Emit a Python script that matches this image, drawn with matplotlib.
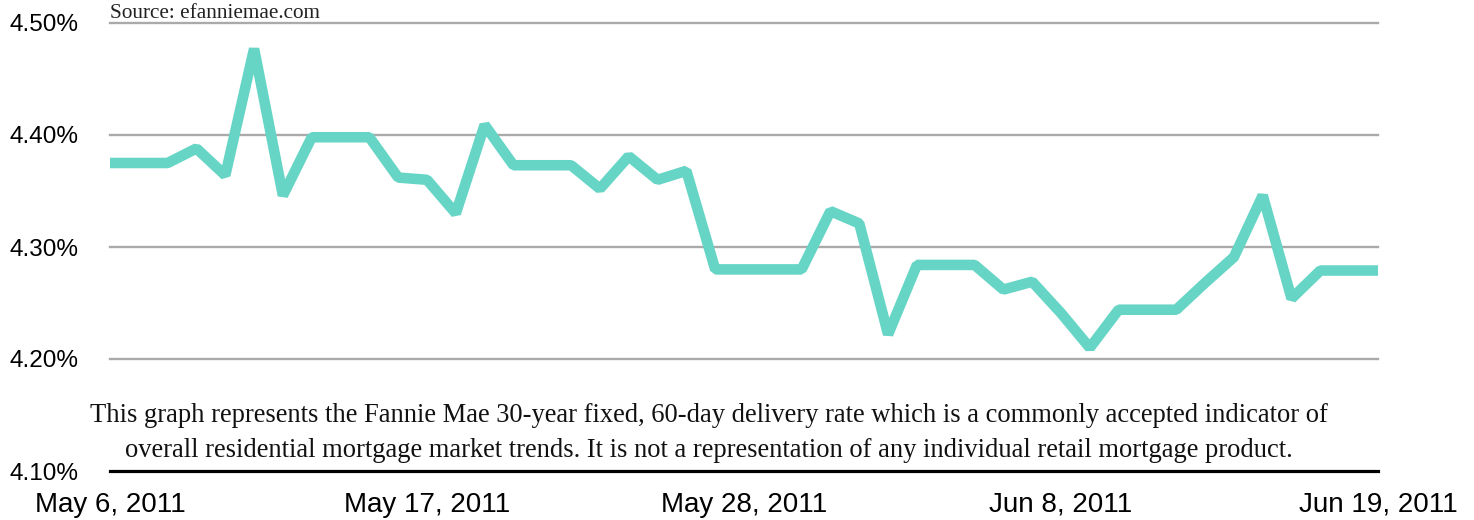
"""
Fannie Mae 30-year fixed, 60-day delivery rate, May 6 - Jun 19 2011
"""
import numpy as np
import pandas as pd
import matplotlib
matplotlib.use('Agg')
import matplotlib.pyplot as plt

# daily rates (%)
start_date = '2011-05-06'
rates = [4.375, 4.375, 4.375, 4.388, 4.364, 4.477, 4.346, 4.398, 4.398, 4.398,
         4.362, 4.360, 4.330, 4.409, 4.373, 4.373, 4.373, 4.352, 4.381, 4.360,
         4.368, 4.280, 4.280, 4.280, 4.280, 4.332, 4.321, 4.222, 4.284, 4.284,
         4.284, 4.262, 4.269, 4.241, 4.210, 4.244, 4.244, 4.244, 4.268, 4.291,
         4.346, 4.254, 4.279, 4.279, 4.279]
dates = pd.date_range(start_date, periods=len(rates), freq='D')

xtick_dates = ['2011-05-06', '2011-05-17', '2011-05-28', '2011-06-08', '2011-06-19']
xtick_labels = ['May 6, 2011', 'May 17, 2011', 'May 28, 2011', 'Jun 8, 2011', 'Jun 19, 2011']
ytick_vals = [4.10, 4.20, 4.30, 4.40, 4.50]
ytick_labels = ['4.10%', '4.20%', '4.30%', '4.40%', '4.50%']

source_txt = 'Source: efanniemae.com'
caption = ('This graph represents the Fannie Mae 30-year fixed, 60-day delivery rate which is a commonly accepted indicator of\n'
           'overall residential mortgage market trends. It is not a representation of any individual retail mortgage product.')

sans = ['Liberation Sans', 'DejaVu Sans']
serif = ['Liberation Serif', 'DejaVu Serif']

fig = plt.figure(figsize=(14.74, 5.2), dpi=100)
ax = fig.add_axes([110/1474, 49/520, 1268/1474, 448/520])

# grid lines
for v in ytick_vals[1:]:
    ax.axhline(v, color='#aaaaaa', lw=1.7, zorder=1, clip_on=False)
ax.axhline(ytick_vals[0], color='black', lw=2.3, zorder=3, clip_on=False)

ax.plot(dates, rates, color='#66d5c5', lw=7.6, solid_joinstyle='bevel',
        solid_capstyle='butt', zorder=2)

ax.set_xlim(dates[0], dates[-1])
ax.set_ylim(4.10, 4.50)
for s in ax.spines.values():
    s.set_visible(False)

ax.set_yticks(ytick_vals)
ax.set_yticklabels(ytick_labels, family=sans, fontsize=17.5)
ax.set_xticks(pd.to_datetime(xtick_dates))
ax.set_xticklabels(xtick_labels, family=sans, fontsize=20)
ax.tick_params(axis='y', length=0, pad=23)
ax.tick_params(axis='x', length=0, pad=15)

fig.text(110/1474, 1 - 13/520, source_txt, family=serif, fontsize=15.3,
         color='#222222', ha='left', va='center')
fig.text(709/1474, 1 - 433/520, caption, family=serif, fontsize=19.1,
         color='#111111', ha='center', va='center', linespacing=1.55)

plt.savefig('out.png', dpi=100)
plt.close()
